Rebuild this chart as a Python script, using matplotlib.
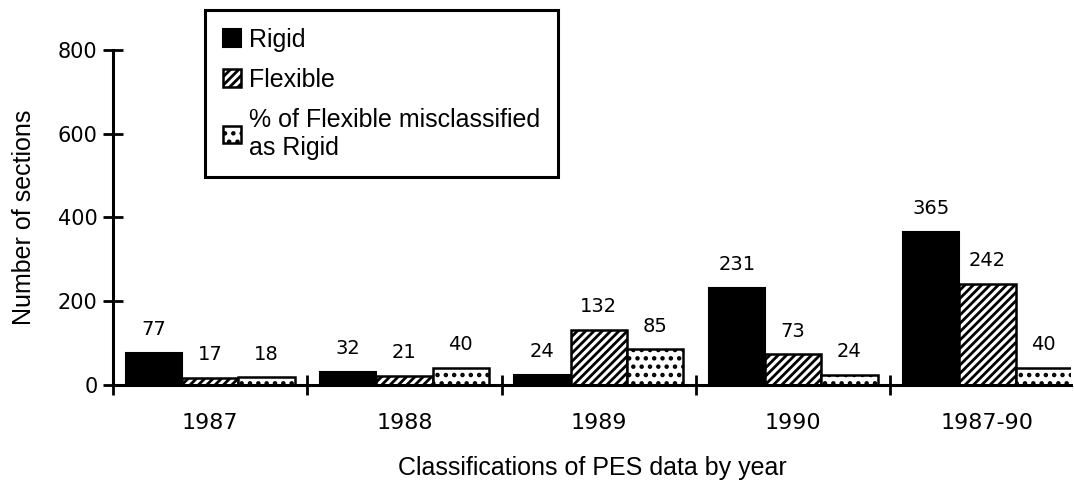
import numpy as np
import matplotlib
matplotlib.use("Agg")
import matplotlib.pyplot as plt
from matplotlib.ticker import FixedLocator

plt.rcParams['font.family'] = ['Liberation Sans', 'DejaVu Sans']
plt.rcParams['hatch.linewidth'] = 2.0

## Daten
years = ["1987", "1988", "1989", "1990", "1987-90"]
rigid = [77, 32, 24, 231, 365]
flexible = [17, 21, 132, 73, 242]
pct_misclassified = [18, 40, 85, 24, 40]

series_names = ["Rigid", "Flexible", "% of Flexible misclassified\nas Rigid"]

## Diagramm
fig = plt.figure(figsize=(10.74, 4.83), dpi=100)
ax = fig.add_axes([0.1052, 0.2029, 0.892, 0.6936])

x = np.arange(len(years))
w = 0.29

b1 = ax.bar(x - w, rigid, w, color="black", edgecolor="black", linewidth=1.5,
            label=series_names[0])
b2 = ax.bar(x, flexible, w, color="white", edgecolor="black", linewidth=1.8,
            hatch="////", label=series_names[1])
b3 = ax.bar(x + w, pct_misclassified, w, color="white", edgecolor="black",
            linewidth=1.8, hatch="..", label=series_names[2])

# Zahlen (Werte und Achsen) etwas breiter laufend
num_font = ['DejaVu Sans']

# Werte ueber den Balken
for bars, vals in [(b1, rigid), (b2, flexible), (b3, pct_misclassified)]:
    for bar, v in zip(bars, vals):
        ax.annotate(str(v), (bar.get_x() + bar.get_width() / 2, v),
                    xytext=(0, 10), textcoords="offset points",
                    ha="center", va="bottom", fontsize=14, family=num_font)

ax.set_xlim(-0.5, 4.43)
ax.set_ylim(0, 800)

ax.set_yticks([0, 200, 400, 600, 800])
ax.set_yticklabels(["0", "200", "400", "600", "800"], family=num_font, fontsize=15)
ax.set_xticks(x)
ax.set_xticklabels(years, family=num_font, fontsize=16)
ax.xaxis.set_minor_locator(FixedLocator([-0.5, 0.5, 1.5, 2.5, 3.5]))
ax.tick_params(axis="x", which="major", length=0, pad=20)
ax.tick_params(axis="x", which="minor", length=14, width=2, direction="inout")
ax.tick_params(axis="y", length=14, width=2, direction="inout", pad=4)

for s in ["top", "right"]:
    ax.spines[s].set_visible(False)
for s in ["left", "bottom"]:
    ax.spines[s].set_linewidth(2.2)

ax.set_ylabel("Number of sections", fontsize=18, labelpad=16)
ax.set_xlabel("Classifications of PES data by year", fontsize=18, labelpad=17)

leg = fig.legend(handles=[b1, b2, b3], loc="upper left",
                 bbox_to_anchor=(205 / 1074, 1 - 10 / 483), borderaxespad=0,
                 fontsize=18, handlelength=0.72, handleheight=0.7,
                 handletextpad=0.35, labelspacing=0.65, borderpad=0.7,
                 fancybox=False, framealpha=1, edgecolor="black")
leg.get_frame().set_linewidth(2.2)

fig.savefig("out.png", dpi=100)
